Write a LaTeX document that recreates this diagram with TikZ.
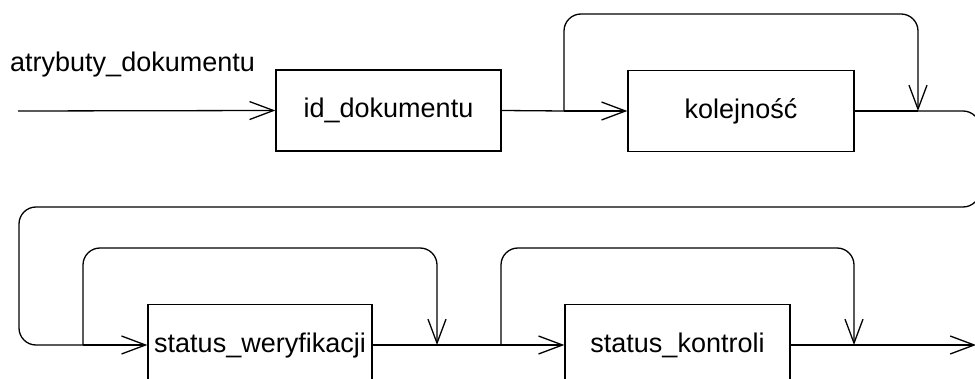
\documentclass[tikz,border=0pt]{standalone}
\usepackage{fontspec}
\setmainfont{Liberation Sans}
\usetikzlibrary{arrows.meta, positioning}

\begin{document}
\begin{tikzpicture}[x=1pt, y=-1pt,
	box/.style={draw, line width=1.3pt, minimum height=81pt, inner sep=0pt,
		text height=20pt, text depth=5pt, font=\fontsize{27}{32}\selectfont},
	line/.style={line width=1.3pt},
	arr/.style={line, -{Straight Barb[length=24pt, width=18pt]}},
	loop/.style={line, rounded corners=17pt}]
	\useasboundingbox (0,0) rectangle (975,379);
	\clip (0,0) rectangle (975,379);
	
	% first row
	\coordinate (start) at (18,111);
	\node[anchor=base west, inner sep=0pt, font=\fontsize{27}{32}\selectfont] (lbl) at (10,72) {atrybuty\_dokumentu};
	\node[box, minimum width=225pt] (id) at (388.5,110.5) {id\_dokumentu};
	\node[box, minimum width=226pt] (kol) at (741,111) {kolejność};
	\coordinate (j1) at (564,111);
	\coordinate (j2) at (918,111);
	
	% second row
	\node[box, minimum width=224pt] (sw) at (260,345) {status\_weryfikacji};
	\node[box, minimum width=225pt] (sk) at (677.5,345) {status\_kontroli};
	\coordinate (j3) at (83,345);
	\coordinate (j4) at (437,345);
	\coordinate (j5) at (501,345);
	\coordinate (j6) at (854,345);
	\coordinate (stop) at (976,345);
	
	% connectors
	\draw[arr] (start) -- (id.west);
	\draw[line] (id.east) -- (j1);
	\draw[arr] (j1) -- (kol.west);
	\draw[loop, arr] (j1) -- (564,14) -- (918,14) -- (j2);
	\draw[line] (kol.east) -- (j2);
	\draw[loop] (j2) -- (980,111) -- (980,207) -- (19,207) -- (19,345) -- (j3);
	\draw[arr] (j3) -- (sw.west);
	\draw[loop, arr] (j3) -- (83,248) -- (437,248) -- (j4);
	\draw[line] (sw.east) -- (j5);
	\draw[arr] (j5) -- (sk.west);
	\draw[loop, arr] (j5) -- (501,248) -- (854,248) -- (j6);
	\draw[arr] (sk.east) -- (stop);
\end{tikzpicture}
\end{document}
